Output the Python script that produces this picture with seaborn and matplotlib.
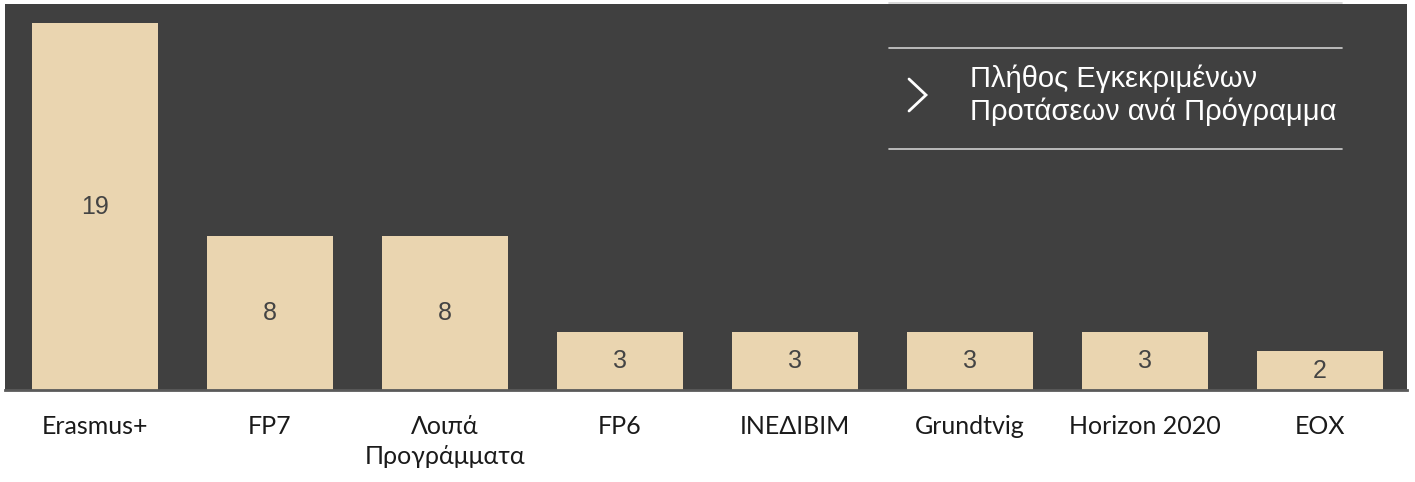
import matplotlib
matplotlib.use("Agg")
import matplotlib.pyplot as plt
import seaborn as sns
import pandas as pd

categories = ["Erasmus+", "FP7", "Λοιπά\nΠρογράμματα", "FP6", "ΙΝΕΔΙΒΙΜ", "Grundtvig", "Horizon 2020", "ΕΟΧ"]
values = [19, 8, 8, 3, 3, 3, 3, 2]
legend_text = "Πλήθος Εγκεκριμένων\nΠροτάσεων ανά Πρόγραμμα"

sns.set_theme(style="white")
plt.rcParams['font.family'] = ['Lato', 'DejaVu Sans']

df = pd.DataFrame({"program": categories, "count": values})

fig = plt.figure(figsize=(14.15, 4.82), dpi=100)
ax = fig.add_axes([5/1415, 92/482, 1402/1415, 386/482])
ax.set_facecolor("#404040")

sns.barplot(data=df, x="program", y="count", color="#EAD5B0", saturation=1,
            width=0.72, linewidth=0, edgecolor="none", ax=ax)
for c in ax.containers:
    ax.bar_label(c, label_type="center", fontsize=18, color="#444444",
                 family=['Liberation Sans', 'DejaVu Sans'])

ax.set_ylim(0, 20)
ax.set_xlim(-0.515, 7.5)
ax.set_xlabel("")
ax.set_ylabel("")
ax.set_yticks([])
ax.tick_params(axis="x", length=0, pad=18, labelsize=18, labelcolor="#1a1a1a")
for lab in ax.get_xticklabels():
    lab.set_linespacing(1.35)
for s in ["top", "left", "right"]:
    ax.spines[s].set_visible(False)
ax.spines["bottom"].set_color("#5a5a5a")
ax.spines["bottom"].set_linewidth(2)

# legend-like annotation box
def fx(px):
    return px / 1415
def fy(py):
    return 1 - py / 482

for yy in [3, 48, 149]:
    fig.add_artist(plt.Line2D([fx(889), fx(1342)], [fy(yy), fy(yy)],
                              color="#d0d0d0", lw=1.2))
fig.add_artist(plt.Line2D([fx(909), fx(926), fx(909)], [fy(79), fy(95), fy(111)],
                          color="white", lw=2, solid_joinstyle="miter"))
fig.text(fx(970), fy(95), legend_text, color="white", fontsize=21, ha="left", va="center",
         linespacing=1.2, family=['Liberation Sans', 'DejaVu Sans'])

fig.savefig("out.png", dpi=100, facecolor="white")
